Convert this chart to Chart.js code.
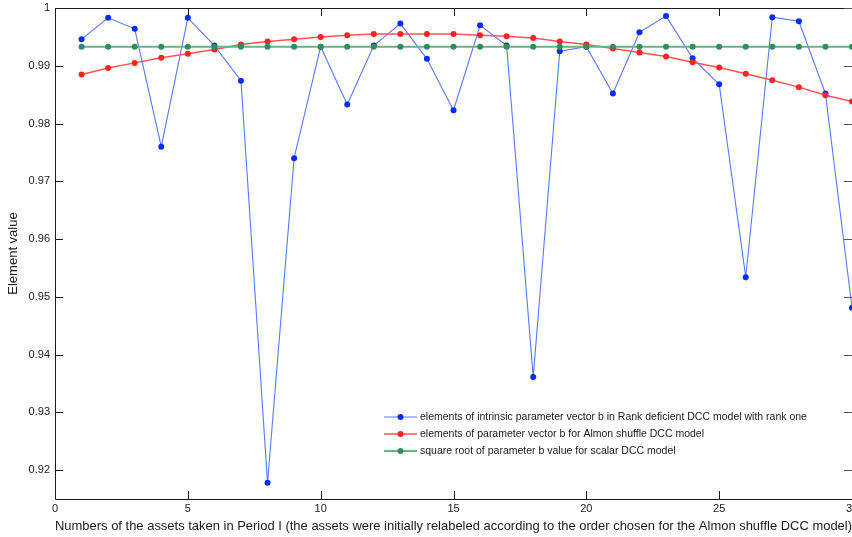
<!DOCTYPE html>
<html><head><meta charset="utf-8">
<script src="https://cdn.jsdelivr.net/npm/chart.js@4/dist/chart.umd.min.js"></script>
<style>html,body{margin:0;padding:0;background:#fff;overflow:hidden}#wrap{width:852px;height:537px;position:relative}</style>
</head><body><div id="wrap"><canvas id="c"></canvas></div>
<script>
const assets = [1,2,3,4,5,6,7,8,9,10,11,12,13,14,15,16,17,18,19,20,21,22,23,24,25,26,27,28,29,30];
const rankDeficientB = [0.9946,0.9983,0.9964,0.9760,0.9983,0.9935,0.9874,0.9178,0.9740,0.9933,
  0.9833,0.9935,0.9973,0.9912,0.9823,0.9970,0.9935,0.9361,0.9925,0.9933,
  0.9852,0.9958,0.9986,0.9913,0.9868,0.9534,0.9984,0.9977,0.9852,0.9481];
const almonShuffleB = [0.9885,0.9896,0.9905,0.9914,0.9921,0.9928,0.9937,0.9942,0.9946,0.9950,
  0.9953,0.9955,0.9955,0.9955,0.9955,0.9953,0.9951,0.9948,0.9942,0.9937,
  0.9930,0.9923,0.9916,0.9906,0.9897,0.9886,0.9875,0.9863,0.9849,0.9838];
const scalarB = [0.9933,0.9933,0.9933,0.9933,0.9933,0.9933,0.9933,0.9933,0.9933,0.9933,
  0.9933,0.9933,0.9933,0.9933,0.9933,0.9933,0.9933,0.9933,0.9933,0.9933,
  0.9933,0.9933,0.9933,0.9933,0.9933,0.9933,0.9933,0.9933,0.9933,0.9933];
const seriesLabels = [
  'elements of intrinsic parameter vector b in Rank deficient DCC model with rank one',
  'elements of parameter vector b for Almon shuffle DCC model',
  'square root of parameter b value for scalar DCC model'
];
const xTickValues = [0,5,10,15,20,25,30];
const xTickLabels = ['0','5','10','15','20','25','30'];
const yTickValues = [0.92,0.93,0.94,0.95,0.96,0.97,0.98,0.99,1];
const yTickLabels = ['0.92','0.93','0.94','0.95','0.96','0.97','0.98','0.99','1'];
const xTitle = 'Numbers of the assets taken in Period I (the assets were initially relabeled according to the order chosen for the Almon shuffle DCC model)';
const yTitle = 'Element value';

const FONT = "'Liberation Sans', Arial, Helvetica, sans-serif";
const pts = arr => assets.map((a,i)=>({x:a,y:arr[i]}));

const framePlugin = {
  id:'frame',
  afterDatasetsDraw(chart){
    const {ctx, chartArea:a, scales:{x,y}} = chart;
    const L=8;
    ctx.save();
    ctx.strokeStyle='#1a1a1a'; ctx.lineWidth=1;
    ctx.beginPath();
    ctx.moveTo(a.left+0.5, a.bottom+0.5); ctx.lineTo(a.left+0.5, a.top+0.5); ctx.lineTo(a.right+0.5, a.top+0.5);
    ctx.moveTo(a.left+0.5, a.bottom+0.5); ctx.lineTo(a.right+0.5, a.bottom+0.5);
    ctx.moveTo(a.right+0.5, a.top+0.5); ctx.lineTo(a.right+0.5, a.bottom+0.5);
    xTickValues.forEach(v=>{
      const px=Math.round(x.getPixelForValue(v))+0.5;
      ctx.moveTo(px,a.bottom); ctx.lineTo(px,a.bottom-L);
      ctx.moveTo(px,a.top); ctx.lineTo(px,a.top+L);
    });
    yTickValues.forEach(v=>{
      const py=Math.round(y.getPixelForValue(v))+0.5;
      ctx.moveTo(a.left,py); ctx.lineTo(a.left+L,py);
    });
    ctx.stroke();
    ctx.strokeStyle='#555';
    ctx.beginPath();
    yTickValues.forEach(v=>{
      const py=Math.round(y.getPixelForValue(v))+0.5;
      ctx.moveTo(a.right,py); ctx.lineTo(a.right-L,py);
    });
    ctx.stroke();
    ctx.restore();
  }
};

const legendPlugin = {
  id:'innerLegend',
  afterDraw(chart, args, o){
    const ctx=chart.ctx;
    ctx.save();
    ctx.font = o.font;
    ctx.textBaseline='middle';
    chart.data.datasets.forEach((ds,i)=>{
      const yy = o.y + i*o.gap;
      ctx.strokeStyle=ds.borderColor; ctx.lineWidth=ds.borderWidth;
      ctx.beginPath(); ctx.moveTo(o.x0,yy); ctx.lineTo(o.x1,yy); ctx.stroke();
      ctx.fillStyle=ds.pointBackgroundColor;
      ctx.beginPath(); ctx.arc((o.x0+o.x1)/2,yy,ds.pointRadius,0,Math.PI*2); ctx.fill();
      ctx.fillStyle='#1a1a1a';
      ctx.fillText(ds.label, o.tx, yy+0.5);
    });
    ctx.restore();
  }
};

new Chart(document.getElementById('c'), {
  type:'line',
  data:{datasets:[
    {label:seriesLabels[0], data:pts(rankDeficientB), borderColor:'rgb(90,120,255)', borderWidth:1.1,
     pointBackgroundColor:'rgb(0,45,255)', pointBorderWidth:0, pointRadius:3, order:3},
    {label:seriesLabels[1], data:pts(almonShuffleB), borderColor:'rgb(255,85,85)', borderWidth:1.5,
     pointBackgroundColor:'rgb(255,35,35)', pointBorderWidth:0, pointRadius:3, order:2},
    {label:seriesLabels[2], data:pts(scalarB), borderColor:'rgb(110,175,140)', borderWidth:2,
     pointBackgroundColor:'rgb(50,140,95)', pointBorderWidth:0, pointRadius:3, order:1}
  ]},
  options:{
    responsive:true, maintainAspectRatio:false, animation:false,
    layout:{autoPadding:false, padding:{top:8,right:0,left:0,bottom:0}},
    plugins:{legend:{display:false}, tooltip:{enabled:false},
      innerLegend:{x0:384,x1:417,tx:420,y:417,gap:17,font:"10.5px "+FONT}},
    scales:{
      x:{type:'linear', min:0, max:30,
        afterBuildTicks(s){ s.ticks = xTickValues.map(v=>({value:v})); },
        afterFit(s){ s.height=38; s.paddingLeft=0; s.paddingRight=0; },
        grid:{display:false, drawTicks:false}, border:{display:false},
        ticks:{padding:3, color:'#1a1a1a', font:{family:FONT,size:11}, maxRotation:0, autoSkip:false,
          callback:(v)=>xTickLabels[xTickValues.indexOf(v)]},
        title:{display:true, text:xTitle, color:'#1a1a1a', font:{family:FONT,size:13}, padding:{top:0,bottom:3}}
      },
      y:{type:'linear', min:0.915, max:1,
        afterBuildTicks(s){ s.ticks = yTickValues.map(v=>({value:v})); },
        afterFit(s){ s.width=55; s.paddingTop=0; s.paddingBottom=0; },
        grid:{display:false, drawTicks:false}, border:{display:false},
        ticks:{padding:5, color:'#1a1a1a', font:{family:FONT,size:11}, autoSkip:false,
          callback:(v)=>{const i=yTickValues.findIndex(t=>Math.abs(t-v)<1e-9); return i<0?'':yTickLabels[i];}},
        title:{display:true, text:yTitle, color:'#1a1a1a', font:{family:FONT,size:13}, padding:{top:6,bottom:0}}
      }
    }
  },
  plugins:[framePlugin, legendPlugin]
});
</script></body></html>
